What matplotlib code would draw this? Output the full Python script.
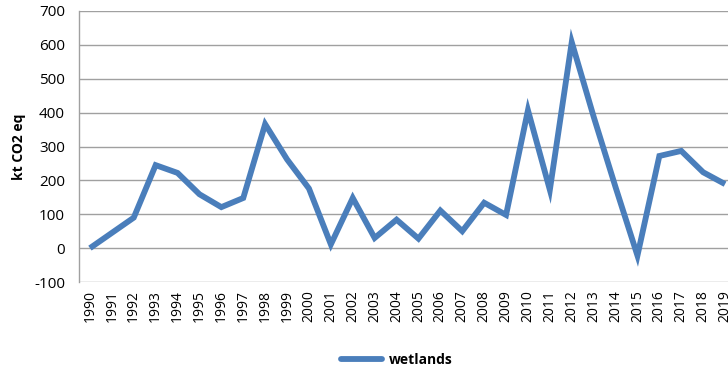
import numpy as np
import matplotlib.pyplot as plt
from matplotlib.lines import Line2D

years = [str(y) for y in range(1990, 2020)]
wetlands = [0, 45, 90, 245, 222, 159, 121, 148, 366, 262, 176, 11, 148, 30, 84,
            28, 111, 50, 134, 98, 407, 172, 608, 388, 180, -22, 272, 287, 224, 189]

plt.rcParams['font.family'] = ['Open Sans', 'DejaVu Sans']
plt.rcParams['axes.unicode_minus'] = False

fig = plt.figure(figsize=(7.28, 3.74), dpi=100)
ax = fig.add_axes([79/728, 92/374, 657/728, 271/374])

x = np.arange(len(years))
ax.plot(x, wetlands, color='#4a7ebb', lw=4.2, solid_joinstyle='miter',
        solid_capstyle='butt', zorder=3)

ax.set_xlim(-0.5, len(years) - 0.5)
ax.set_ylim(-100, 700)
ax.set_yticks(range(-100, 701, 100))
ax.set_xticks(x)
ax.set_xticklabels(years, rotation=90, fontsize=10)
ax.tick_params(axis='y', labelsize=11, length=0, pad=10)
ax.tick_params(axis='x', length=0, pad=6)
ax.yaxis.grid(True, color='#a0a0a0', lw=1)
ax.set_axisbelow(True)
for s in ['top', 'right', 'bottom']:
    ax.spines[s].set_visible(False)
ax.spines['left'].set_color('#a0a0a0')
ax.spines['left'].set_linewidth(1)

ax.set_ylabel('kt CO2 eq', fontsize=10, fontweight='bold', labelpad=6)

handle = Line2D([], [], color='#4a7ebb', lw=4.2, solid_capstyle='round')
fig.legend(handles=[handle], labels=['wetlands'], loc='center',
           bbox_to_anchor=(0.545, 0.038), frameon=False, handlelength=2.9,
           handletextpad=0.5, prop={'weight': 'bold', 'size': 10})

fig.savefig('out.png', dpi=100)
